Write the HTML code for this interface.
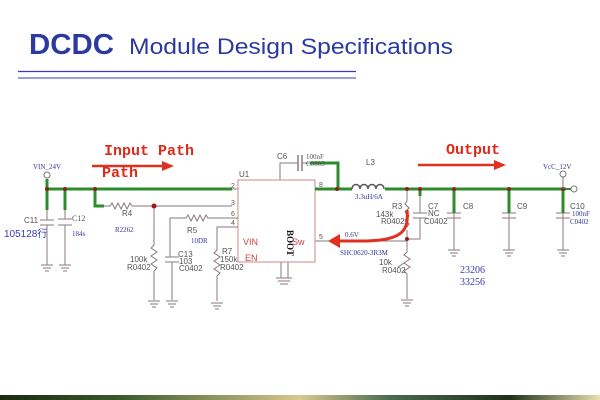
<!DOCTYPE html>
<html><head><meta charset="utf-8"><style>
html,body{margin:0;padding:0;background:#fff;}
body{width:600px;height:400px;overflow:hidden;position:relative;font-family:"Liberation Sans",sans-serif;}
</style></head><body>
<svg width="600" height="400" viewBox="0 0 600 400" xmlns="http://www.w3.org/2000/svg" style="position:absolute;left:0;top:0">
<text x="29" y="54" font-family="Liberation Sans" font-weight="bold" font-size="29" fill="#2b3a9e" textLength="85" lengthAdjust="spacingAndGlyphs">DCDC</text>
<text x="129" y="54" font-family="Liberation Sans" font-size="22" fill="#2b3a9e" textLength="324" lengthAdjust="spacingAndGlyphs">Module Design Specifications</text>
<line x1="18" y1="71.5" x2="356" y2="71.5" stroke="#3a3ab8" stroke-width="1.3"/>
<line x1="18" y1="78" x2="356" y2="78" stroke="#3a3ab8" stroke-width="1"/>

<g fill="none" stroke="#8a7a7a" stroke-width="1">
<line x1="47" y1="210" x2="47" y2="220"/><line x1="40" y1="220" x2="54" y2="220"/><line x1="40" y1="225" x2="54" y2="225"/><line x1="47" y1="225" x2="47" y2="265"/>
<line x1="65" y1="210" x2="65" y2="219"/><line x1="58" y1="219" x2="72" y2="219"/><line x1="58" y1="225" x2="72" y2="225"/><line x1="65" y1="225" x2="65" y2="265"/>
<path d="M41 265h12M43 268h8M45 271h4M59 265h12M61 268h8M63 271h4"/>
<path d="M104 206h6l2-3 3 6 3-6 3 6 3-6 3 6 3-6 2 3h100"/>
<line x1="154" y1="206" x2="154" y2="245"/>
<path d="M154 245l-3 3 6 4-6 4 6 4-6 4 6 4-3 3v29M148 301h12M150 304h8M152 307h4"/>
<path d="M238 218h-30l-2-3-3 6-3-6-3 6-3-6-3 6-3-6-2 3h-16v39"/>
<path d="M165 257h14M165 262h14M172 262v38M166 301h12M168 304h8M170 307h4"/>
<path d="M238 227h-21v23l-3 3 6 4-6 4 6 4-6 4 6 4-3 3v25M211 303h12M213 306h8M215 309h4"/>
<path d="M232 189h6M315 189h8M315 241h92"/>
<path d="M280 180v-17h18M302 163h8"/><line x1="298" y1="155" x2="298" y2="171" stroke-width="1.5"/><line x1="302" y1="155" x2="302" y2="171" stroke-width="1.5"/>
<path d="M281 262v16M288 262v16M276 278h16M278 281h12M280 284h8"/>
<path d="M407 189v12M407 230v22l-3 3 6 4-6 4-6 4 6-4 6 4-6 4 3 3v25M401 300h12M403 303h8M405 306h4"/>
<path d="M420 189v24M413 213h14M413 218h14M420 218v21h-13"/>
<path d="M454 213v37M447 213h14M447 218h14M448 250h12M450 253h8M452 256h4"/>
<path d="M509 213v37M502 213h14M502 218h14M503 250h12M505 253h8M507 256h4"/>
<path d="M563 213v37M556 213h14M556 218h14M557 250h12M559 253h8M561 256h4"/>
</g>
<rect x="238" y="180" width="77" height="82" fill="none" stroke="#c98a8a" stroke-width="1"/>
<path d="M352 189c0-6 8-6 8 0c0-6 8-6 8 0c0-6 8-6 8 0c0-6 8-6 8 0" fill="none" stroke="#555" stroke-width="1.5"/>
<path d="M407 201l-2 3 4 4-4 4 4 4-4 4 4 4-2 3" fill="none" stroke="#777"/>

<g stroke="#2e8b2e" stroke-width="3" fill="none">
<path d="M47 179v31M47 189h185M65 189v21M95 189v17h9"/>
<path d="M310 163h28v26M315 189h37M385 189h181"/>
<path d="M420 189v7M454 189v24M509 189v24M563 189v24"/>
</g>
<g fill="#8b2020"><circle cx="47" cy="189" r="2"/><circle cx="65" cy="189" r="2"/><circle cx="95" cy="189" r="2"/><circle cx="154" cy="206" r="2.5" fill="#a01818"/>
<circle cx="337" cy="189" r="2"/><circle cx="407" cy="189" r="2"/><circle cx="420" cy="189" r="2"/><circle cx="454" cy="189" r="2"/><circle cx="509" cy="189" r="2"/><circle cx="563" cy="189" r="2"/><circle cx="407" cy="239" r="2"/></g>
<circle cx="47" cy="175" r="3" fill="#fff" stroke="#777"/><circle cx="563" cy="174" r="3" fill="#fff" stroke="#777"/><circle cx="574" cy="189" r="3" fill="#fff" stroke="#777"/>
<line x1="563" y1="177" x2="563" y2="189" stroke="#777"/><line x1="566" y1="189" x2="571" y2="189" stroke="#2e8b2e" stroke-width="2"/>

<path d="M407 210c2 20-4 30-40 31h-32" fill="none" stroke="#e03020" stroke-width="3"/>
<polygon points="328,241 340,234 340,248" fill="#e03020"/>
<line x1="92" y1="166" x2="164" y2="166" stroke="#e03020" stroke-width="2.5"/><polygon points="174,166 162,161 162,171" fill="#e03020"/>
<line x1="418" y1="165" x2="496" y2="165" stroke="#e03020" stroke-width="2.5"/><polygon points="506,165 494,160 494,170" fill="#e03020"/>

<g font-family="Liberation Mono" font-weight="bold" fill="#e02818" font-size="15">
<text x="104" y="155">Input Path</text><text x="102" y="177">Path</text><text x="446" y="154">Output</text></g>

<g font-family="Liberation Sans" font-size="8" fill="#555">
<text x="239" y="177">U1</text><text x="277" y="159">C6</text><text x="366" y="165">L3</text>
<text x="24" y="223">C11</text><text x="72" y="221" font-family="Liberation Serif">C12</text><text x="122" y="216">R4</text>
<text x="187" y="233">R5</text><text x="178" y="257">C13</text><text x="179" y="264">103</text><text x="179" y="271">C0402</text>
<text x="130" y="262">100k</text><text x="127" y="270">R0402</text>
<text x="222" y="254">R7</text><text x="220" y="262">150k</text><text x="220" y="270">R0402</text>
<text x="392" y="209">R3</text><text x="376" y="217">143k</text><text x="381" y="224">R0402</text>
<text x="428" y="209">C7</text><text x="428" y="216">NC</text><text x="424" y="224">C0402</text>
<text x="463" y="209">C8</text><text x="517" y="209">C9</text><text x="570" y="209">C10</text>
<text x="379" y="265">10k</text><text x="382" y="273">R0402</text>
<text x="231" y="188" font-size="7">2</text><text x="231" y="205" font-size="7">3</text><text x="231" y="216" font-size="7">6</text><text x="231" y="225" font-size="7">4</text>
<text x="319" y="187" font-size="7">8</text><text x="319" y="239" font-size="7">5</text>
</g>
<g font-family="Liberation Serif" font-size="7" fill="#33339a">
<text x="33" y="169">VIN_24V</text><text x="115" y="232">R2262</text><text x="191" y="243">10DR</text><text x="72" y="236">184s</text>
<text x="543" y="169">VcC_12V</text><text x="572" y="216">100nF</text><text x="570" y="224">C0402</text>
<text x="355" y="199">3.3uH/6A</text><text x="340" y="255">SHC0620-3R3M</text><text x="345" y="237">0.6V</text>
<text x="306" y="159" fill="#555">100nF</text><text x="306" y="166" fill="#555">C0603</text>
</g>
<text x="4" y="237" font-family="Liberation Sans,Noto Sans CJK SC,sans-serif" font-size="10" fill="#3a3ab0">105128行</text>
<text x="460" y="273" font-family="Liberation Serif" font-size="10" fill="#3a3ab0">23206</text>
<text x="460" y="285" font-family="Liberation Serif" font-size="10" fill="#3a3ab0">33256</text>
<text x="243" y="245" font-size="9" fill="#d04040" font-family="Liberation Sans">VIN</text>
<text x="245" y="261" font-size="9" fill="#d04040" font-family="Liberation Sans">EN</text>
<text x="292" y="245" font-size="9" fill="#d04040" font-family="Liberation Sans">Sw</text>
<text transform="translate(287,230) rotate(90)" font-size="9" font-weight="bold" font-family="Liberation Serif" fill="#111">BOOT</text>

<defs><linearGradient id="g" x1="0" x2="1"><stop offset="0" stop-color="#1a2a10"/><stop offset=".2" stop-color="#3a5a2a"/><stop offset=".5" stop-color="#d8c890"/><stop offset=".65" stop-color="#4a6a50"/><stop offset=".85" stop-color="#203018"/><stop offset="1" stop-color="#e8e0b0"/></linearGradient></defs>
<rect x="0" y="395" width="600" height="5" fill="url(#g)"/>
</svg>
</body></html>
